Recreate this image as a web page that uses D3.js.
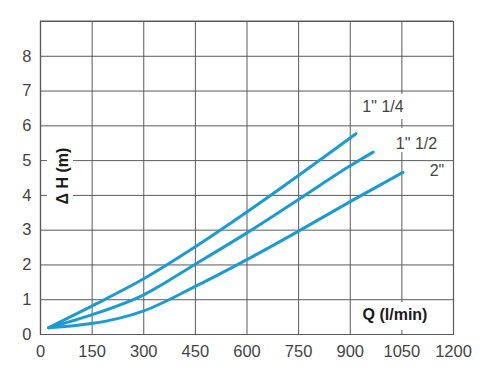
<!DOCTYPE html>
<html>
<head>
<meta charset="utf-8">
<script src="https://cdn.jsdelivr.net/npm/d3@7"></script>
<style>
  body { margin: 0; background: #fff; }
  svg { display: block; }
</style>
</head>
<body>
<svg id="chart" width="500" height="375"></svg>
<script>
// ---- data ----
const xTicks = [0, 150, 300, 450, 600, 750, 900, 1050, 1200];
const yTicks = [0, 1, 2, 3, 4, 5, 6, 7, 8];
const seriesNames = ['1" 1/4', '1" 1/2', '2"'];
const q14 = [25, 150, 300, 450, 600, 750, 900, 918];
const h14 = [0.18, 0.8, 1.58, 2.5, 3.5, 4.55, 5.63, 5.76];
const q12 = [25, 150, 300, 450, 600, 750, 900, 968];
const h12 = [0.18, 0.55, 1.12, 2.0, 2.9, 3.86, 4.83, 5.23];
const q2 = [25, 150, 228, 300, 450, 600, 750, 900, 1055];
const h2 = [0.18, 0.3, 0.45, 0.66, 1.36, 2.13, 2.95, 3.8, 4.65];

const svg = d3.select('#chart');
const L = 40, R = 453, T = 21, B = 334;
const x = d3.scaleLinear().domain([0, 1200]).range([L, R]);
const y = d3.scaleLinear().domain([0, 9]).range([B, T]);
const gridColor = '#5a5a5a';
const font = '"Liberation Sans", Arial, sans-serif';

// grid via axes
const gx = svg.append('g').attr('transform', `translate(0,${B})`)
  .call(d3.axisBottom(x).tickValues(xTicks).tickSize(-(B - T)).tickPadding(11.6).tickFormat(d3.format('d')));
const gy = svg.append('g').attr('transform', `translate(${L},0)`)
  .call(d3.axisLeft(y).tickValues(yTicks).tickSize(-(R - L)).tickPadding(8.5).tickFormat(d3.format('d')));
[gx, gy].forEach(g => {
  g.select('.domain').attr('stroke', gridColor).attr('stroke-width', 1.2);
  g.selectAll('.tick line').attr('stroke', gridColor).attr('stroke-width', 1);
  g.selectAll('.tick text').attr('fill', '#444').style('font-family', font).style('font-size', '16.5px');
});
// top border
svg.append('line').attr('x1', L).attr('x2', R).attr('y1', y(9)).attr('y2', y(9))
  .attr('stroke', gridColor).attr('stroke-width', 1);

// curves
const line = d3.line().x(d => x(d[0])).y(d => y(d[1])).curve(d3.curveMonotoneX);
const series = [d3.zip(q14, h14), d3.zip(q12, h12), d3.zip(q2, h2)];
svg.append('g').selectAll('path').data(series).join('path')
  .attr('d', line)
  .attr('fill', 'none')
  .attr('stroke', '#1d9ad0')
  .attr('stroke-width', 3)
  .attr('stroke-linecap', 'round');

// labels with white boxes
function box(x0, y0, w, h) {
  svg.append('rect').attr('x', x0).attr('y', y0).attr('width', w).attr('height', h).attr('fill', '#fff');
}
box(356, 94, 55, 25);
box(390, 128, 55, 24);
box(425, 162, 24, 18);
box(353, 302, 83, 28);
box(47, 146, 26, 62);

const labelPos = [[383, 112], [416.5, 149], [437, 176]];
svg.append('g').selectAll('text').data(seriesNames).join('text')
  .attr('x', (d, i) => labelPos[i][0])
  .attr('y', (d, i) => labelPos[i][1])
  .attr('text-anchor', 'middle')
  .attr('fill', '#444')
  .style('font-family', font).style('font-size', '16px')
  .text(d => d);

svg.append('text').attr('x', 395).attr('y', 320).attr('text-anchor', 'middle')
  .attr('fill', '#1a1a1a').style('font-family', font).style('font-size', '16px').style('font-weight', 'bold')
  .text('Q (l/min)');

svg.append('text').attr('transform', 'translate(67.5,176) rotate(-90)').attr('text-anchor', 'middle')
  .attr('fill', '#1a1a1a').style('font-family', font).style('font-size', '16px').style('font-weight', 'bold')
  .text('Δ H (m)');
</script>
</body>
</html>
